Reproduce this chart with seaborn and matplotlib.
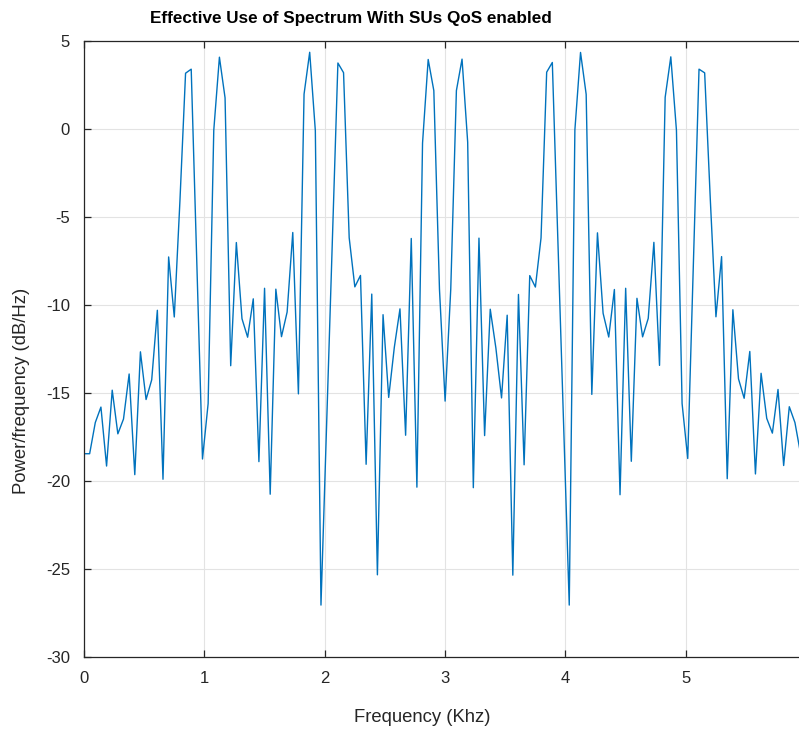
import numpy as np
import matplotlib
matplotlib.use("Agg")
import matplotlib.pyplot as plt
import seaborn as sns

# frequency bins: 128 bins, 6 kHz span
n_bins = 128
bin_width = 6 / 128
freq_khz = np.arange(n_bins) * bin_width

# power spectral density (dB/Hz)
psd_db = [
    -18.45, -18.45, -16.68, -15.80, -19.15, -14.84, -17.32, -16.48,
    -13.92, -19.64, -12.66, -15.37, -14.25, -10.30, -19.90, -7.27,
    -10.68, -4.10, 3.17, 3.40, -7.70, -18.75, -15.60, -0.07,
    4.08, 1.77, -13.45, -6.45, -10.78, -11.83, -9.65, -18.90,
    -9.05, -20.75, -9.10, -11.80, -10.40, -5.88, -15.05, 1.98,
    4.36, -0.10, -27.05, -16.80, -6.50, 3.75, 3.20, -6.18,
    -8.97, -8.32, -19.05, -9.38, -25.33, -10.55, -15.25, -12.40,
    -10.22, -17.40, -6.22, -20.35, -0.80, 3.95, 2.18, -9.10,
    -15.46, -9.10, 2.18, 3.97, -0.75, -20.38, -6.20, -17.42,
    -10.24, -12.45, -15.28, -10.58, -25.35, -9.40, -19.08, -8.33,
    -8.98, -6.19, 3.23, 3.78, -6.50, -16.80, -27.05, -0.05,
    4.35, 1.97, -15.08, -5.90, -10.47, -11.82, -9.12, -20.78,
    -9.05, -18.88, -9.62, -11.81, -10.76, -6.44, -13.43, 1.80,
    4.10, -0.08, -15.60, -18.72, -7.68, 3.40, 3.19, -4.00,
    -10.67, -7.25, -19.87, -10.27, -14.20, -15.30, -12.64, -19.60,
    -13.88, -16.44, -17.28, -14.80, -19.12, -15.78, -16.68, -18.45,
]

x_ticks = [0, 1, 2, 3, 4, 5]
y_ticks = [5, 0, -5, -10, -15, -20, -25, -30]

title = "Effective Use of Spectrum With SUs QoS enabled"
x_label = "Frequency (Khz)"
y_label = "Power/frequency (dB/Hz)"

sns.set_style("white")
plt.rcParams["font.family"] = ["Liberation Sans", "DejaVu Sans"]
plt.rcParams["axes.unicode_minus"] = False

fig = plt.figure(figsize=(7.99, 7.29), dpi=100)
ax = fig.add_axes([84 / 799, 72 / 729, 715 / 799, 616 / 729])

sns.lineplot(x=freq_khz, y=psd_db, ax=ax, color="#0072BD", linewidth=1.0)

ax.set_xlim(0, 5.94)
ax.set_ylim(-30, 5)
ax.set_xticks(x_ticks)
ax.set_yticks(y_ticks)
ax.grid(True, color="#e3e3e3", linewidth=0.8)
ax.set_axisbelow(True)

for side in ["left", "top", "bottom"]:
    ax.spines[side].set_visible(True)
    ax.spines[side].set_color("#262626")
    ax.spines[side].set_linewidth(0.9)
ax.spines["right"].set_visible(False)

ax.tick_params(axis="both", direction="in", length=5, width=0.9, color="#262626",
               labelsize=12, labelcolor="#262626", top=True, bottom=True, left=True)
ax.tick_params(axis="x", pad=10)
ax.tick_params(axis="y", pad=10)

fig.text(351 / 799, 1 - 18 / 729, title, ha="center", va="center",
         fontsize=12.3, fontweight="bold", color="black")
fig.text(422 / 799, 1 - 717 / 729, x_label, ha="center", va="center",
         fontsize=13.3, color="#262626")
fig.text(22 / 799, 1 - 391 / 729, y_label, ha="center", va="center",
         rotation=90, fontsize=13.3, color="#262626")

fig.savefig("out.png", dpi=100)
